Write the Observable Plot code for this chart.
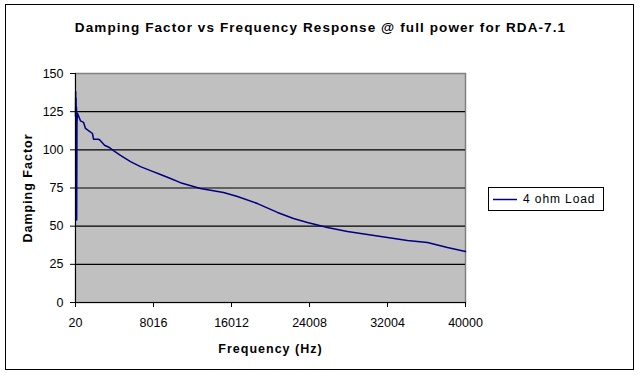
<!DOCTYPE html>
<html><head><meta charset="utf-8">
<script src="https://cdn.jsdelivr.net/npm/d3@7"></script>
<script src="https://cdn.jsdelivr.net/npm/@observablehq/plot@0.6"></script>
<style>
body{margin:0;background:#fff;}
#wrap{position:relative;width:640px;height:375px;font-family:"Liberation Sans",Arial,sans-serif;}
#border{position:absolute;left:5px;top:4px;width:629px;height:366px;border:1.5px solid #000;box-sizing:border-box;pointer-events:none;}
#legend{position:absolute;left:488px;top:187px;width:116px;height:24px;border:1px solid #000;box-sizing:border-box;background:#fff;font-size:12px;letter-spacing:0.9px;}
#legend svg{position:absolute;left:4px;top:10px;}
#legend span{position:absolute;left:34px;top:4px;}
.sp1 text{letter-spacing:1px;}
</style></head>
<body><div id="wrap"><div id="chart"></div><div id="border"></div>
<div id="legend"><svg width="26" height="3"><line x1="0" y1="1.5" x2="24" y2="1.5" stroke="#000080" stroke-width="1.5"/></svg><span id="legtext"></span></div></div>
<script>
const title = "Damping Factor vs Frequency Response @ full power for RDA-7.1";
const xLabel = "Frequency (Hz)";
const yLabel = "Damping Factor";
const seriesName = "4 ohm Load";
const xTicks = [20, 8016, 16012, 24008, 32004, 40000];
const yTicks = [0, 25, 50, 75, 100, 125, 150];
const freq = [20, 40, 60, 80, 100, 120, 140, 170, 225, 530, 840, 1045, 1350, 1760, 1865, 2380, 2580, 3000, 3500, 3915, 4630, 5660, 6680, 7710, 8730, 9760, 10780, 12115, 12830, 15190, 16625, 18675, 20725, 22365, 23800, 25850, 27900, 29950, 32000, 34050, 36100, 38150, 40000];
const damping = [122, 138, 80, 134, 78, 128, 54, 118, 124, 119, 118, 114, 112.6, 110.7, 107, 107, 106, 103, 101.5, 99.5, 96.3, 92.3, 89, 86.4, 83.8, 81.2, 78.5, 76, 74.7, 72, 69.4, 64.8, 59, 55, 52.4, 49.1, 46.5, 44.5, 42.6, 40.6, 39.3, 36, 33.4];
const data = freq.map((f, i) => ({f, d: damping[i]}));
document.getElementById("legtext").textContent = seriesName;

const chart = Plot.plot({
  width: 640, height: 375,
  marginLeft: 75, marginRight: 175, marginTop: 73, marginBottom: 73,
  style: {fontFamily: '"Liberation Sans", Arial, sans-serif', fontSize: "12px", background: "transparent", color: "#000"},
  x: {domain: [20, 40000]},
  y: {domain: [0, 150]},
  marks: [
    Plot.frame({fill: "#c0c0c0", stroke: "#808080", strokeWidth: 1.5}),
    Plot.ruleY(yTicks.slice(1, -1), {stroke: "#000", strokeWidth: 1.2}),
    Plot.line(data, {x: "f", y: "d", stroke: "#000080", strokeWidth: 1.5}),
    Plot.ruleX([20], {stroke: "#000"}),
    Plot.ruleY([0], {stroke: "#000"}),
    Plot.axisX({ticks: xTicks, tickFormat: d => String(d), tickSize: 5, tickPadding: 11, label: null, fontSize: 12.5}),
    Plot.axisY({ticks: yTicks, tickSize: 5, tickPadding: 7, label: null, fontSize: 12.5}),
    Plot.text([title], {frameAnchor: "top", dx: 50, dy: -51, fontWeight: "bold", fontSize: 13.5, className: "ttl"}),
    Plot.text([xLabel], {frameAnchor: "bottom", dy: 50, fontWeight: "bold", fontSize: 12.5, className: "sp1"}),
    Plot.text([yLabel], {frameAnchor: "left", textAnchor: "middle", dx: -48, rotate: -90, fontWeight: "bold", fontSize: 12.5, className: "sp1"})
  ]
});
chart.querySelectorAll(".ttl text").forEach(t => t.setAttribute("letter-spacing", "1.1"));
document.getElementById("chart").append(chart);
</script></body></html>
